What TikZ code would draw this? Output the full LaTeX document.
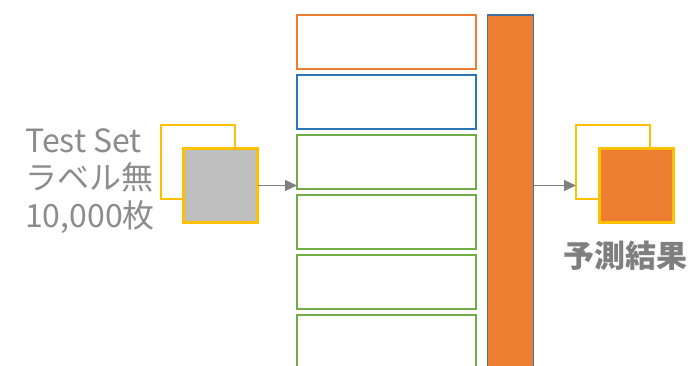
\documentclass[tikz,border=0pt]{standalone}
\usepackage{fontspec}
\setmainfont{Noto Sans CJK JP}
\usepackage{xcolor}
\usepackage{tikz}
\usetikzlibrary{positioning}
\usetikzlibrary{arrows.meta}
\definecolor{accorange}{HTML}{ED7D31}
\definecolor{accblue}{HTML}{2E75B6}
\definecolor{accgreen}{HTML}{70AD47}
\definecolor{accgold}{HTML}{FFC000}
\definecolor{bargray}{HTML}{BFBFBF}
\definecolor{txtgray}{HTML}{8C8C8C}
\definecolor{arrgray}{HTML}{7F7F7F}
\definecolor{barline}{HTML}{41719C}
\tikzset{layer/.style={draw, line width=2.3pt, minimum width=179pt, minimum height=54pt, inner sep=0pt, outer sep=0pt}}
\tikzset{sheet/.style={draw=accgold, minimum width=74pt, minimum height=74pt, inner sep=0pt, outer sep=0pt, anchor=north west}}
\tikzset{flow/.style={draw=arrgray, line width=1.2pt, -{Triangle[length=12pt,width=11pt]}}}

\begin{document}
\begin{tikzpicture}[x=1pt,y=-1pt]
{
\useasboundingbox (0,0) rectangle (693,366);
\clip (0,0) rectangle (693,366);
% input images
\node[sheet, line width=2pt, fill=white] (imgback) at (161,125) {};
\node[sheet, line width=2.6pt, fill=bargray] (imgfront) at (183.5,148.5) {};
\node[anchor=west, align=left, text=txtgray, font=\fontsize{32}{37.5}\selectfont, inner sep=0pt] (testset) at (25,181) {Test Set\\ラベル無\\10,000枚};
% network layers
\node[layer, draw=accorange, anchor=north west] (layer1) at (297,15) {};
\node[layer, draw=accblue, below=6pt of layer1] (layer2) {};
\node[layer, draw=accgreen, below=6pt of layer2] (layer3) {};
\node[layer, draw=accgreen, below=6pt of layer3] (layer4) {};
\node[layer, draw=accgreen, below=6pt of layer4] (layer5) {};
\node[layer, draw=accgreen, below=6pt of layer5] (layer6) {};
\node[draw=barline, line width=1.5pt, fill=accorange, minimum width=46pt, minimum height=400pt, inner sep=0pt, outer sep=0pt, anchor=north west] (outbar) at (487.5,15) {};
% prediction
\node[sheet, line width=2pt, fill=white] (resback) at (576,125) {};
\node[sheet, line width=2.6pt, fill=accorange] (resfront) at (599.5,148.5) {};
\node[text=arrgray, font=\fontsize{31}{37}\selectfont\bfseries, inner sep=0pt] (result) at (625,256) {予測結果};
% arrows
\draw[flow] (imgfront.east) -- (imgfront.east -| layer3.west);
\draw[flow] (outbar.east |- resfront.west) -- (resback.west |- resfront.west);
}
\end{tikzpicture}
\end{document}
